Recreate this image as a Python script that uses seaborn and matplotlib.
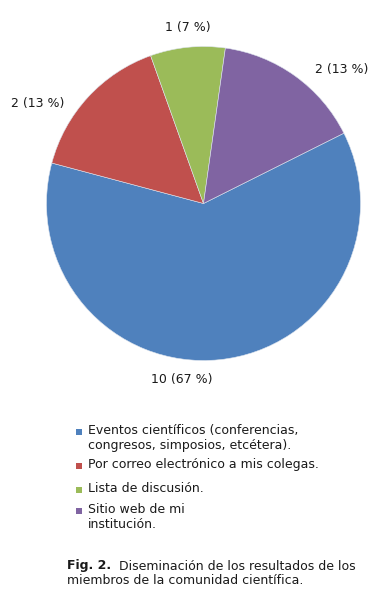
import matplotlib
matplotlib.use("Agg")
import matplotlib.pyplot as plt
import seaborn as sns
from matplotlib.patches import Rectangle

# categories (legend order)
categories = [
    "Eventos científicos (conferencias,\ncongresos, simposios, etcétera).",
    "Por correo electrónico a mis colegas.",
    "Lista de discusión.",
    "Sitio web de mi\ninstitución.",
]
# counts printed on the chart
counts = [10, 2, 1, 2]
percents = [67, 13, 7, 13]
# wedge sizes as drawn in the picture
wedge_sizes = [8, 2, 1, 2]

caption_bold = "Fig. 2."
caption_rest = "  Diseminación de los resultados de los"
caption_line2 = "miembros de la comunidad científica."

sns.set_theme(style="white")
plt.rcParams["font.family"] = ["DejaVu Sans"]

colors = ["#4F81BD", "#C0504D", "#9BBB59", "#8064A2"]
text_color = "#1a1a1a"
fs = 9

W, H = 392, 608
fig = plt.figure(figsize=(W / 100, H / 100), dpi=100)
fig.patch.set_facecolor("white")

cx, cy, r = 203.5, 203.5, 157
ax = fig.add_axes([(cx - r) / W, 1 - (cy + r) / H, 2 * r / W, 2 * r / H])
wedges, _ = ax.pie(wedge_sizes, colors=colors, startangle=26.6, counterclock=False,
                   radius=1, wedgeprops=dict(edgecolor="#dde4ee", linewidth=0.4))
ax.set_xlim(-1, 1)
ax.set_ylim(-1, 1)
ax.set_aspect("auto")
ax.axis("off")

# data label placement (pixel centres)
label_px = [(182, 379), (38, 104), (188, 27), (342, 69)]
for (px, py), n, p in zip(label_px, counts, percents):
    fig.text(px / W, 1 - py / H, f"{n} ({p} %)", ha="center", va="center",
             fontsize=fs, color=text_color)

# legend, marker aligned with the first line of each entry
legend_y = [431, 465, 489, 510]
for y, c, lab in zip(legend_y, colors, categories):
    fig.patches.append(Rectangle(((75.5) / W, 1 - (y + 3.5) / H), 6 / W, 6 / H,
                                 transform=fig.transFigure, facecolor=c,
                                 edgecolor="none", figure=fig))
    fig.text(88 / W, 1 - (y - 7) / H, lab, ha="left", va="top", fontsize=fs,
             color=text_color, linespacing=1.2)

t1 = fig.text(67 / W, 1 - 566 / H, caption_bold, fontsize=fs, fontweight="bold",
              va="center", ha="left", color=text_color)
ax.annotate(caption_rest, xy=(1, 0), xycoords=t1, va="bottom", ha="left",
            fontsize=fs, color=text_color)
fig.text(67 / W, 1 - 581 / H, caption_line2, fontsize=fs, va="center", ha="left",
         color=text_color)

fig.savefig("out.png", dpi=100)
